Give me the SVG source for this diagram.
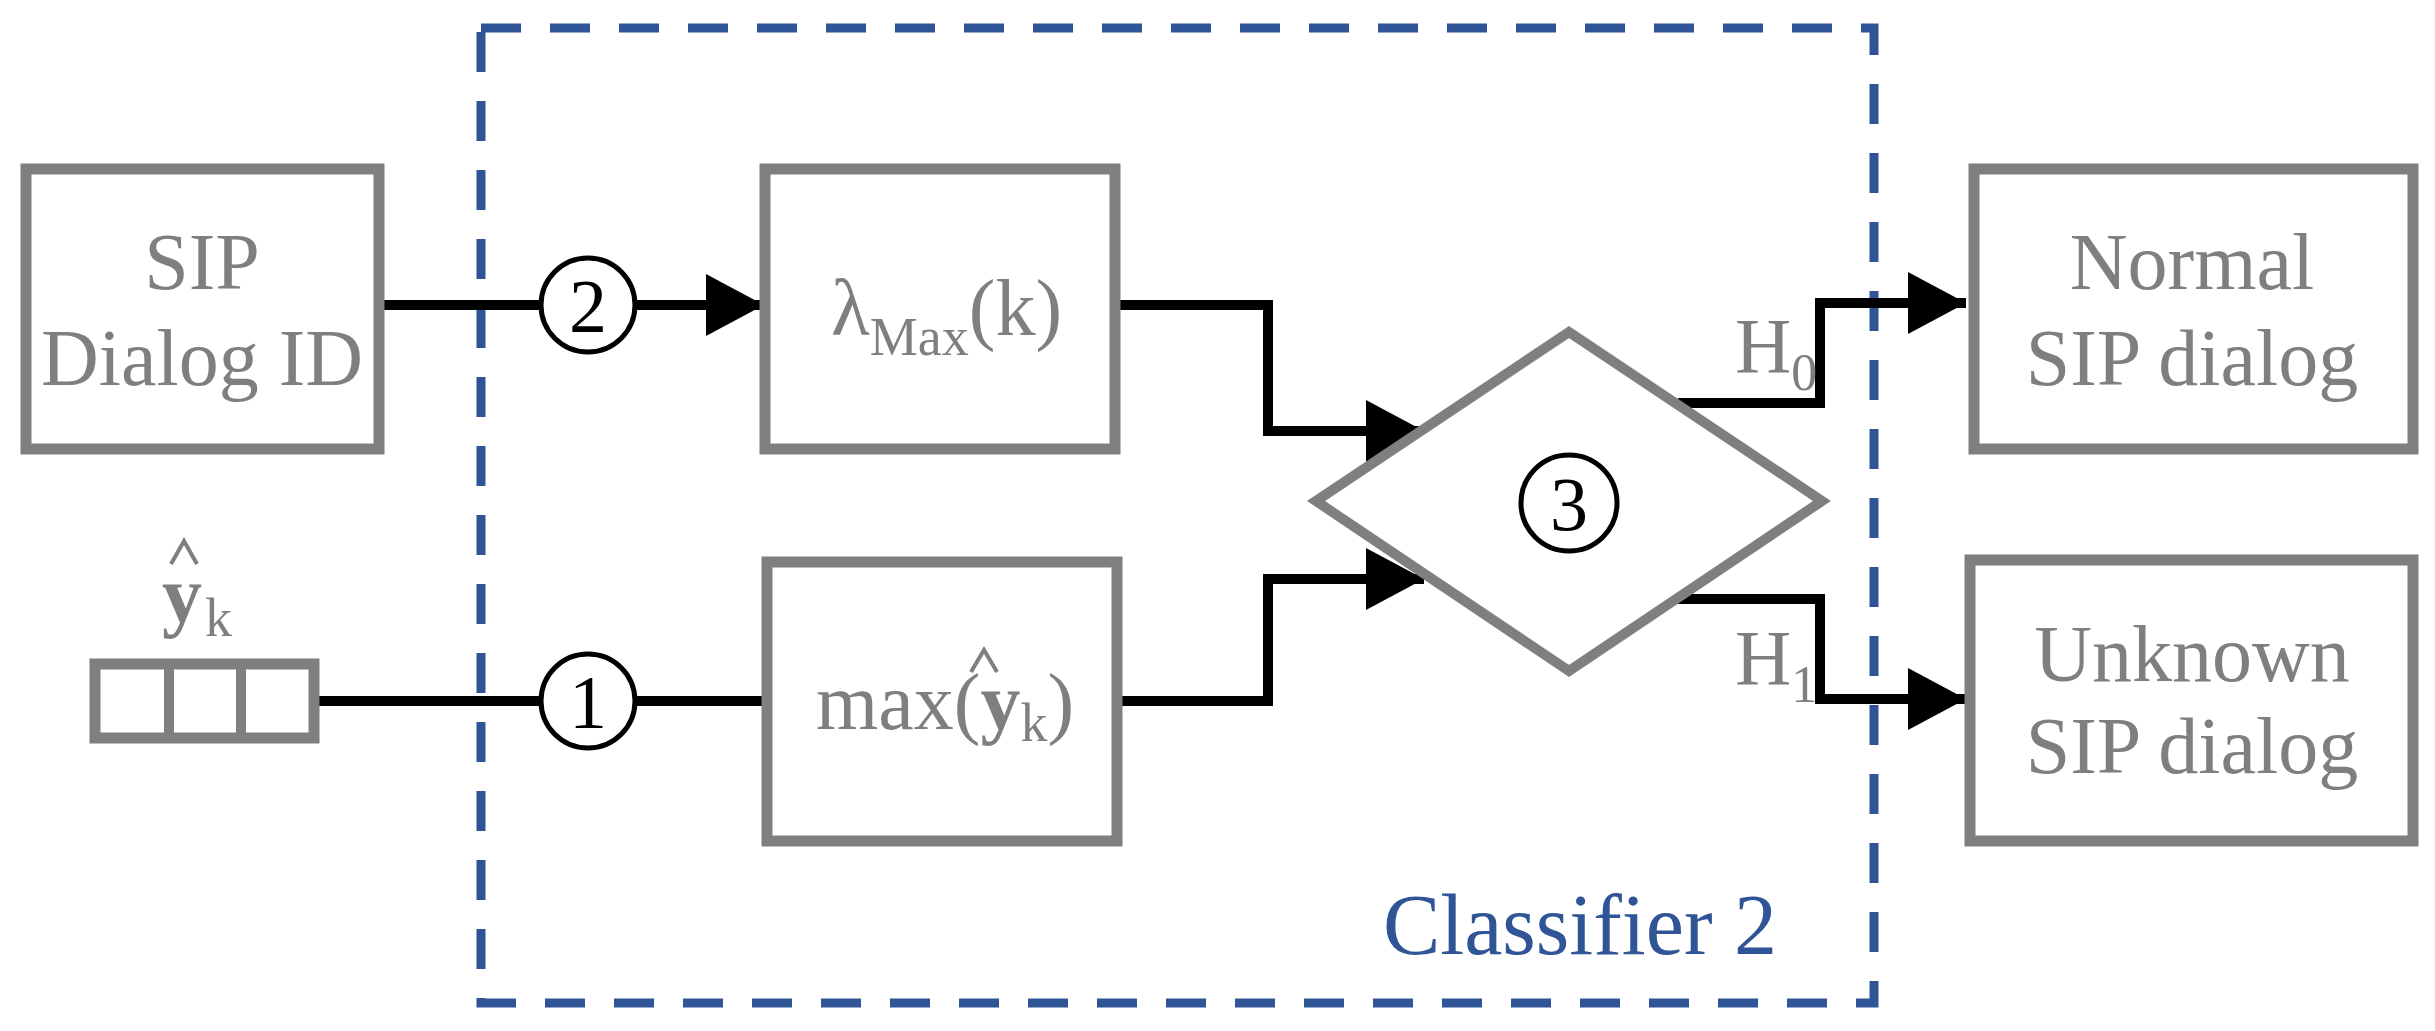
<svg xmlns="http://www.w3.org/2000/svg" width="2435" height="1031" viewBox="0 0 2435 1031">
<style>
.box{fill:none;stroke:#7f7f7f;stroke-width:11}
.t{font-family:"Liberation Serif",serif;font-size:80px;fill:#7f7f7f;text-anchor:middle}
.c{fill:#fff;stroke:#000;stroke-width:5}
.n{font-family:"Liberation Serif",serif;font-size:76px;fill:#000;text-anchor:middle}
.w{fill:none;stroke:#000;stroke-width:10}
</style>
<defs>
<marker id="ar" markerUnits="userSpaceOnUse" markerWidth="60" markerHeight="62" refX="58" refY="31" orient="auto"><path d="M0,0 L58,31 L0,62 Z" fill="#000"/></marker>
</defs>
<rect id="classifier" x="481" y="28" width="1393" height="975" fill="none" stroke="#2f5597" stroke-width="9" stroke-dasharray="40 29"/>
<text x="1580" y="954" font-family="Liberation Serif,serif" font-size="86" fill="#2f5597" text-anchor="middle">Classifier 2</text>
<g id="connectors">
<path class="w" d="M379,305 H764" marker-end="url(#ar)"/>
<path class="w" d="M314,701 H767"/>
<path class="w" d="M1115,305 H1268 V431 H1424" marker-end="url(#ar)"/>
<path class="w" d="M1117,701 H1268 V579 H1424" marker-end="url(#ar)"/>
<path class="w" d="M1678,403 H1820 V303 H1966" marker-end="url(#ar)"/>
<path class="w" d="M1678,599 H1820 V699 H1966" marker-end="url(#ar)"/>
</g>
<g id="sipid"><rect class="box" x="26" y="169" width="353" height="280"/>
<text class="t" x="202" y="289">SIP</text><text class="t" x="202" y="385">Dialog ID</text></g>
<g id="yk">
<rect class="box" x="95" y="664" width="219" height="74" stroke-width="10"/>
<path d="M169,664 V738 M241,664 V738" stroke="#7f7f7f" stroke-width="10"/>
<text x="182" y="622" font-family="Liberation Serif,serif" font-size="80" font-weight="bold" fill="#7f7f7f" text-anchor="middle">y</text>
<path d="M171,564 L184,541 L197,564" fill="none" stroke="#7f7f7f" stroke-width="4"/>
<text x="205" y="636" font-family="Liberation Serif,serif" font-size="54" fill="#7f7f7f">k</text>
</g>
<g id="lambda"><rect class="box" x="765" y="169" width="350" height="280"/>
<text x="831" y="335" font-family="Liberation Serif,serif" font-size="80" fill="#7f7f7f">λ<tspan font-size="54" dy="20">Max</tspan><tspan dy="-20">(k)</tspan></text></g>
<g id="maxbox"><rect class="box" x="767" y="562" width="350" height="279"/>
<text x="816" y="729" font-family="Liberation Serif,serif" font-size="80" fill="#7f7f7f">max(<tspan font-weight="bold">y</tspan><tspan font-size="54" dy="12">k</tspan><tspan dy="-12">)</tspan></text>
<path d="M971,672 L984,650 L997,672" fill="none" stroke="#7f7f7f" stroke-width="4"/></g>
<g id="c2"><circle class="c" cx="588" cy="305" r="47"/><text class="n" x="588" y="332">2</text></g>
<g id="c1"><circle class="c" cx="588" cy="701" r="47"/><text class="n" x="588" y="728">1</text></g>
<g id="decision"><polygon points="1316,501 1569,332 1822,501 1569,671" fill="#fff" stroke="#7f7f7f" stroke-width="10"/>
<circle class="c" cx="1569" cy="503" r="48"/><text class="n" x="1569" y="530">3</text></g>
<g id="hlabels">
<text x="1735" y="372" font-family="Liberation Serif,serif" font-size="78" fill="#7f7f7f">H<tspan font-size="52" dy="18">0</tspan></text>
<text x="1735" y="684" font-family="Liberation Serif,serif" font-size="78" fill="#7f7f7f">H<tspan font-size="52" dy="18">1</tspan></text>
</g>
<g id="normal"><rect class="box" x="1974" y="169" width="439" height="280"/>
<text class="t" x="2192" y="289">Normal</text><text class="t" x="2192" y="385">SIP dialog</text></g>
<g id="unknown"><rect class="box" x="1970" y="560" width="443" height="281"/>
<text class="t" x="2192" y="681">Unknown</text><text class="t" x="2192" y="773">SIP dialog</text></g>
</svg>
